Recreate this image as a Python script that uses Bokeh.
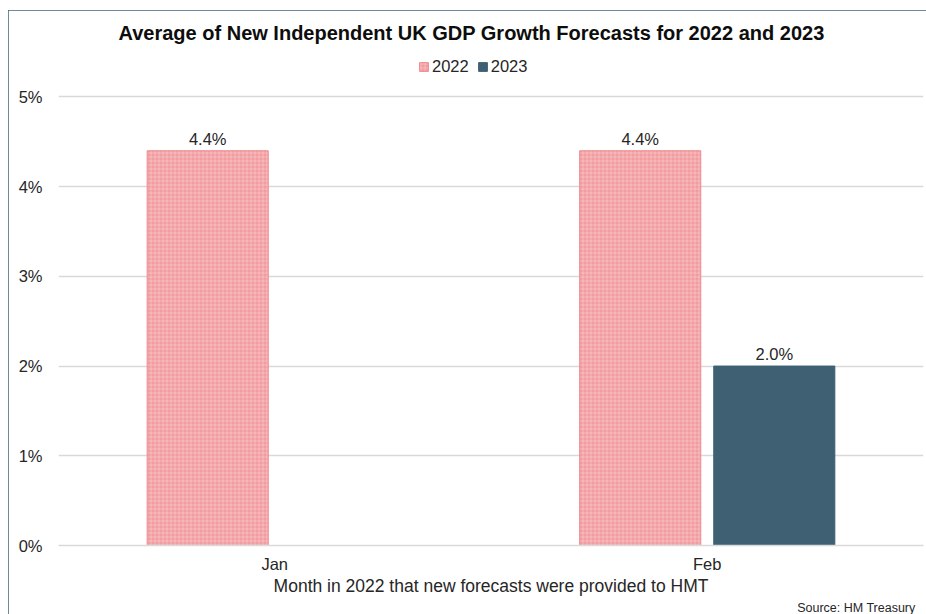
from bokeh.plotting import figure
from bokeh.models import (ColumnDataSource, FactorRange, Legend, LegendItem, LabelSet,
                          PrintfTickFormatter, Title, FixedTicker)
from bokeh.core.properties import value
from bokeh.transform import dodge
from bokeh.embed import file_html
from bokeh.resources import INLINE

months = ["Jan", "Feb"]
series = ["2022", "2023"]
vals_2022 = [4.4, 4.4]
vals_2023 = [float("nan"), 2.0]
labels_2022 = ["4.4%", "4.4%"]
labels_2023 = ["", "2.0%"]
y_ticks = [0, 1, 2, 3, 4, 5]

FONT = "Liberation Sans"
TXT = "#262626"
PINK = "#F29CA0"
PINK_LINE = "#EE8A8E"
SLATE = "#3F6073"

src = ColumnDataSource(dict(month=months, v22=vals_2022, v23=vals_2023,
                            l22=labels_2022, l23=labels_2023))

# y range extends above 5% to leave room for the legend inside the frame
p = figure(x_range=FactorRange(*months, range_padding=0), y_range=(0, 5.484),
           width=918, height=604, output_backend="svg", toolbar_location=None,
           min_border_left=50, min_border_right=3, min_border_top=40, min_border_bottom=67)
p.styles = {"margin-left": "8px", "margin-top": "10px",
            "outline": "2px solid #40637A", "outline-offset": "-2px"}

r22 = p.vbar(x=dodge("month", -0.155, range=p.x_range), top="v22", width=0.28, source=src,
             fill_color=PINK, line_color=PINK_LINE, line_width=1,
             hatch_pattern="cross", hatch_color="white", hatch_alpha=0.28,
             hatch_scale=4, hatch_weight=1)
r23 = p.vbar(x=dodge("month", 0.155, range=p.x_range), top="v23", width=0.28, source=src,
             fill_color=SLATE, line_color=SLATE)

for col, lab, off in (("v22", "l22", -0.155), ("v23", "l23", 0.155)):
    p.add_layout(LabelSet(x=dodge("month", off, range=p.x_range), y=col, text=lab, source=src,
                          text_align="center", text_baseline="bottom", y_offset=3,
                          text_font=value(FONT), text_font_size="16.5px", text_color=TXT))

p.title.text = "Average of New Independent UK GDP Growth Forecasts for 2022 and 2023"
p.title.align = "left"
p.title.offset = 60
p.title.text_font = FONT
p.title.text_font_size = "20px"
p.title.text_font_style = "bold"
p.title.text_color = "#0D0D0D"
p.title.padding = 0
p.title.standoff = 19

legend = Legend(items=[LegendItem(label="2022", renderers=[r22]),
                       LegendItem(label="2023", renderers=[r23])],
                orientation="horizontal", location=(360, 469),
                label_text_font=FONT, label_text_font_size="16.5px", label_text_color=TXT,
                label_text_baseline="middle",
                glyph_width=11, glyph_height=11, spacing=8, label_standoff=3,
                label_height=18,
                border_line_color=None, background_fill_alpha=0, margin=0, padding=0)
p.add_layout(legend, "center")

p.yaxis.ticker = FixedTicker(ticks=y_ticks)
p.yaxis.formatter = PrintfTickFormatter(format="%d%%")
p.yaxis.axis_line_color = None
p.yaxis.major_tick_line_color = None
p.yaxis.major_tick_out = 0
p.yaxis.minor_tick_line_color = None
p.yaxis.major_label_standoff = 16
p.yaxis.major_label_text_font = FONT
p.yaxis.major_label_text_font_size = "16.5px"
p.yaxis.major_label_text_color = TXT

p.xaxis.axis_line_color = "#D9D9D9"
p.xaxis.axis_line_width = 1.5
p.xaxis.major_tick_line_color = None
p.xaxis.major_tick_out = 0
p.xaxis.minor_tick_line_color = None
p.xaxis.major_label_text_font = FONT
p.xaxis.major_label_text_font_size = "16.5px"
p.xaxis.major_label_text_color = TXT
p.xaxis.major_label_standoff = 9
p.xaxis.axis_label = "Month in 2022 that new forecasts were provided to HMT"
p.xaxis.axis_label_text_font = FONT
p.xaxis.axis_label_text_font_size = "17.5px"
p.xaxis.axis_label_text_font_style = "normal"
p.xaxis.axis_label_text_color = TXT
p.xaxis.axis_label_standoff = 0

p.xgrid.grid_line_color = None
p.ygrid.grid_line_color = "#D9D9D9"
p.ygrid.grid_line_width = 1.5
p.outline_line_color = None

p.add_layout(Title(text="Source: HM Treasury", align="right", text_font=FONT,
                   text_font_size="12.5px", text_font_style="normal", text_color=TXT,
                   offset=8, padding=0, standoff=0), "below")

open("out.html", "w").write(file_html(p, INLINE))
